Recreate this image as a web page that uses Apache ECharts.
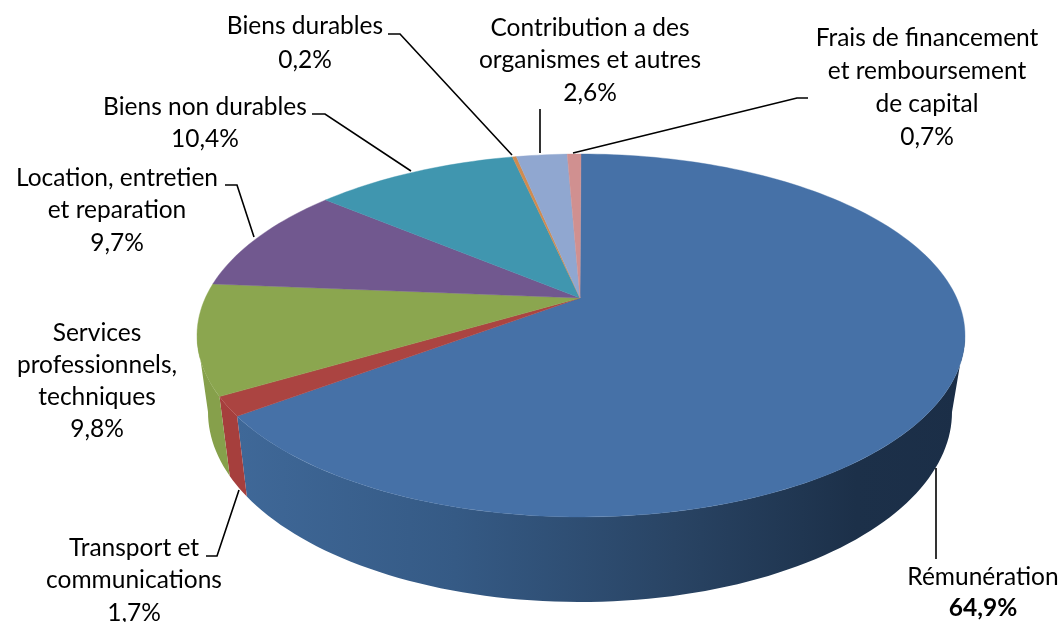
<!DOCTYPE html>
<html><head><meta charset="utf-8">
<style>html,body{margin:0;padding:0;background:#fff}#c{width:1064px;height:622px}</style>
<script src="https://cdn.jsdelivr.net/npm/echarts@6/dist/echarts.min.js"></script>
</head><body><div id="c"></div>
<script>
// ---- data ----
const categories = ['Rémunération','Transport et communications','Services professionnels, techniques','Location, entretien et reparation','Biens non durables','Biens durables','Contribution a des organismes et autres','Frais de financement et remboursement de capital'];
const values = [64.9,1.7,9.8,9.7,10.4,0.2,2.6,0.7];
const labelLines = [
  ['Rémunération'],
  ['Transport et','communications'],
  ['Services','professionnels,','techniques'],
  ['Location, entretien','et reparation'],
  ['Biens non durables'],
  ['Biens durables'],
  ['Contribution a des','organismes et autres'],
  ['Frais de financement','et remboursement','de capital']
];
// ---- styling and layout ----
const topColors = ['#4671a7','#ab4441','#8ba64f','#71588f','#4096af','#d08b4f','#90a7d0','#d09090'];
const wallColors = [null,'#a63f3d','#86a04b','#664e80','#38849b','#b87a43','#8095b8','#b88080'];
const blueWall = [[0,'#3f6898'],[0.3,'#355a85'],[0.6,'#294464'],[0.85,'#1c3049'],[1,'#1b2e47']];
const labelX = [983,134,97,117,205,305,590,927];
const labelY = [577,548,333,178,107,26,28,38];
const labelStep = [31,32.5,32,32.5,32,34,32.5,33];
const leaders = [
  [[936,468],[936,559]],
  [[206,556],[217,556],[239,490]],
  [],
  [[225,185],[237,185],[254,237]],
  [[312,114],[325,114],[411,171]],
  [[388,34],[400,34],[512,155]],
  [[540,109],[540,153]],
  [[808,98],[797,98],[573,153]]
];
const FONT_SIZE = 24.5, FONT = 'Lato, "Open Sans", sans-serif';
const tilt = -0.201;                 // perspective factor of the projected disc
const topFace = {cx:581, cy:335.5, rx:384, ry:181.5};
const baseFace = {cx:580, cy:412, rx:372, ry:190};
const apexPoint = [580,298];
const wallFrom = 101.6, wallTo = 258.4;

function projector(f){
  const y1=f.cy-f.ry, y2=f.cy+f.ry, c=tilt;
  const b=(y1*(1-c)+y2*(1+c))/2, a=b-y1*(1-c);
  const d=f.rx*Math.sqrt(1-c*c);
  return {at(deg){
    const t=deg*Math.PI/180, u=Math.sin(t), v=-Math.cos(t), w=1+c*v;
    return [f.cx+d*u/w,(b+a*v)/w];
  }};
}
const topP = projector(topFace), baseP = projector(baseFace);
const total = values.reduce((s,v)=>s+v,0);
const starts = []; values.reduce((s,v,i)=>{starts[i]=s;return s+v;},0);
const angle = p => p/total*360;
function arc(P,a0,a1){
  const n=Math.max(2,Math.ceil(Math.abs(a1-a0)/1.5)), pts=[];
  for(let i=0;i<=n;i++) pts.push(P.at(a0+(a1-a0)*i/n));
  return pts;
}
const seriesData = values.map((v,i)=>[i,v]);

const wallSeries = {
  type:'custom', coordinateSystem:'none', silent:true, z:1, data:seriesData,
  renderItem(params,api){
    const i=api.value(0), v=api.value(1);
    const a0=Math.max(angle(starts[i]),wallFrom), a1=Math.min(angle(starts[i]+v),wallTo);
    if(a1<=a0) return {type:'group',children:[]};
    const pts=arc(topP,a0,a1).concat(arc(baseP,a1,a0));
    const fill = i===0
      ? {type:'linear',x:0,y:0,x2:1,y2:0,colorStops:blueWall.map(s=>({offset:s[0],color:s[1]}))}
      : wallColors[i];
    return {type:'polygon',shape:{points:pts},style:{fill,stroke:null}};
  }
};
const faceSeries = {
  type:'custom', coordinateSystem:'none', silent:true, z:2, data:seriesData,
  renderItem(params,api){
    const i=api.value(0), v=api.value(1);
    const pts=[apexPoint].concat(arc(topP,angle(starts[i]),angle(starts[i]+v)));
    return {type:'polygon',shape:{points:pts},style:{fill:topColors[i],stroke:topColors[i],lineWidth:0.4}};
  }
};
const labelSeries = {
  type:'custom', coordinateSystem:'none', silent:true, z:3, data:seriesData,
  renderItem(params,api){
    const i=api.value(0), v=api.value(1), children=[];
    const pct=v.toFixed(1).replace('.',',')+'%';
    const lines=labelLines[i].concat([pct]);
    lines.forEach((t,k)=>{
      const bold = i===0 && k===lines.length-1;
      children.push({type:'text',style:{
        text:t,x:labelX[i],y:labelY[i]+k*labelStep[i],
        textAlign:'center',textVerticalAlign:'middle',
        fill:'#000',fontSize:FONT_SIZE,fontFamily:FONT,fontWeight:bold?'bold':'normal'
      }});
    });
    if(leaders[i].length) children.push({type:'polyline',shape:{points:leaders[i]},style:{stroke:'#000',lineWidth:1.6,fill:null}});
    return {type:'group',children};
  }
};
const chart = echarts.init(document.getElementById('c'),null,{renderer:'canvas'});
chart.setOption({animation:false,backgroundColor:'#fff',series:[wallSeries,faceSeries,labelSeries]});
</script></body></html>
